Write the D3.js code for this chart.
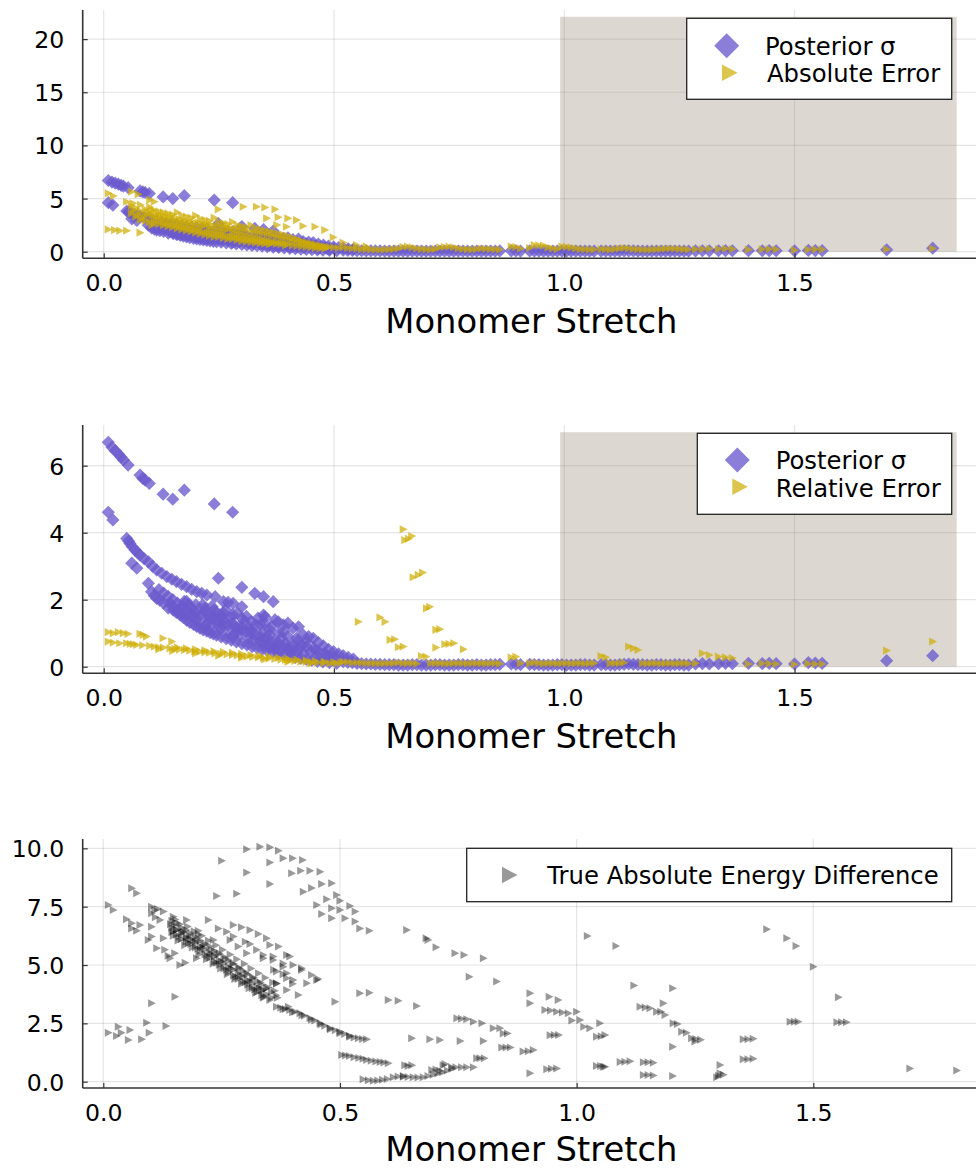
<!DOCTYPE html>
<html><head><meta charset="utf-8">
<script src="https://cdn.jsdelivr.net/npm/d3@7"></script>
<style>body{margin:0;background:#fff}svg{display:block}text{font-family:"DejaVu Sans",sans-serif}</style>
</head><body>
<script>
// ---------- DATA ----------
const xTicks = [0, 0.5, 1.0, 1.5];
const yTicks1 = [0, 5, 10, 15, 20];
const yTicks2 = [0, 2, 4, 6];
const yTicks3 = [0, 2.5, 5, 7.5, 10];
const xLabel = "Monomer Stretch";
const legend1 = ["Posterior σ", "Absolute Error"];
const legend2 = ["Posterior σ", "Relative Error"];
const legend3 = ["True Absolute Energy Difference"];

// Posterior sigma (low stretch part)
const sigmaHead = [
[0.010,6.70],[0.018,6.55],[0.025,6.45],[0.032,6.35],[0.038,6.25],[0.043,6.17],[0.053,6.02],[0.079,5.72],[0.085,5.62],[0.090,5.57],[0.099,5.47],[0.129,5.15],[0.150,5.00],[0.175,5.27],[0.240,4.86],[0.280,4.61],
[0.010,4.61],[0.020,4.38],[0.050,3.83],[0.054,3.75],[0.057,3.68],[0.062,3.58],[0.068,3.48],[0.074,3.40],[0.079,3.33],[0.061,3.09],[0.072,2.94],[0.088,3.22],[0.097,3.13],[0.106,3.00],[0.115,2.89],[0.126,2.79],[0.137,2.69],[0.148,2.61],[0.158,2.54],[0.169,2.46],[0.180,2.39],[0.191,2.31],[0.202,2.24],[0.213,2.19],[0.224,2.14],[0.249,2.64],[0.242,2.09],[0.260,1.94],[0.270,1.92],[0.281,1.89],[0.300,2.37],[0.300,1.79],[0.328,2.19],[0.347,2.09],[0.368,1.94],[0.350,1.49],[0.347,1.54],[0.350,1.30],[0.372,1.40],[0.379,1.34],[0.390,1.25],[0.400,1.30],[0.411,1.15],[0.423,1.19],[0.433,0.95],[0.445,0.90],[0.455,0.85],[0.466,0.72],[0.477,0.62],[0.488,0.52],[0.499,0.45],[0.510,0.38],[0.520,0.33],[0.531,0.28],[0.542,0.23],[0.390,1.04],[0.419,0.85],[0.440,0.75],
[0.097,2.49],[0.104,2.24],[0.110,2.12],[0.115,2.04],[0.122,1.98],[0.144,1.89],[0.151,1.69],[0.158,1.62],[0.166,1.54],[0.173,1.47],[0.180,1.39],[0.187,1.32],[0.195,1.26],[0.202,1.20],[0.209,1.15],[0.216,1.10],[0.224,1.06],[0.231,1.02],[0.238,0.98],[0.245,0.94],[0.255,0.89],[0.266,0.84],[0.277,0.79],[0.288,0.74],[0.300,0.69],[0.311,0.65],[0.322,0.60],[0.333,0.56],[0.344,0.52],[0.355,0.48],[0.368,0.44],[0.380,0.40],[0.392,0.36],[0.404,0.32],[0.416,0.28],[0.428,0.25],[0.440,0.22],[0.452,0.19],[0.464,0.16],[0.476,0.14],[0.490,0.12],[0.506,0.10],
[0.16,1.90],[0.17,1.80],[0.18,1.70],[0.19,1.75],[0.20,1.60],[0.21,1.55],[0.22,1.65],[0.23,1.45],[0.24,1.50],[0.25,1.35],[0.26,1.40],[0.27,1.25],[0.28,1.30],[0.29,1.15],[0.30,1.20],[0.31,1.05],[0.32,1.10],[0.33,0.95],[0.34,0.90],[0.35,0.85],[0.36,0.80],[0.37,0.75],[0.38,0.70],[0.39,0.60],[0.40,0.55],[0.41,0.50],[0.42,0.45],
[0.18,1.95],[0.20,1.85],[0.22,1.75],[0.24,1.70],[0.26,1.60],[0.28,1.55],[0.30,1.45],[0.32,1.35],[0.34,1.25],[0.36,1.10],[0.38,1.00],[0.40,0.90],[0.42,0.75],[0.44,0.60],[0.46,0.50],[0.48,0.40],[0.50,0.30],
[0.165,1.75],[0.195,1.50],[0.225,1.30],[0.255,1.15],[0.285,1.00],[0.315,0.85],[0.345,0.70],[0.375,0.60],[0.405,0.45],[0.435,0.38],[0.465,0.30],
[0.12,2.30],[0.13,2.20],[0.14,2.10],[0.15,2.00],[0.13,1.90],[0.14,1.75],[0.15,1.80],[0.16,1.65],[0.17,1.60],[0.175,1.95],[0.185,1.85],[0.19,1.55],[0.20,1.40],[0.21,1.35],[0.215,1.85],[0.225,1.55],[0.235,1.25],[0.235,1.80],[0.245,1.60],[0.25,1.20],[0.255,1.50],[0.265,1.70],[0.27,1.05],[0.275,1.45],[0.285,1.20],[0.29,1.60],[0.295,0.95],[0.305,1.35],[0.31,1.50],[0.315,1.15],[0.325,0.80],[0.33,1.25],[0.335,1.45],[0.345,1.05],[0.355,0.65],[0.36,0.95],[0.365,1.20],[0.37,0.55],[0.385,0.85],[0.395,0.70],[0.41,0.65],[0.425,0.55],[0.43,0.65],[0.45,0.45],[0.455,0.55],[0.47,0.40],[0.485,0.30],[0.49,0.25],[0.18,1.55],[0.20,1.65],[0.22,1.20],[0.24,1.40],[0.26,1.25],[0.28,0.90],[0.30,1.10],[0.32,1.00],[0.34,0.75],[0.36,0.60],[0.38,0.50]
];

// Absolute error (low stretch part)
const absHead = [
[0.010,5.49],[0.021,5.24],[0.050,4.70],[0.064,4.55],[0.061,5.64],[0.075,5.40],[0.100,4.86],[0.110,4.70],[0.104,3.92],[0.010,2.10],[0.024,2.04],[0.035,1.98],[0.050,1.98],[0.079,1.79],[0.249,3.99],[0.303,4.23],[0.332,4.23],[0.350,4.17],[0.372,3.99],[0.354,3.14],[0.379,3.24],[0.400,3.14],[0.419,2.98],[0.376,2.51],[0.397,2.35],[0.433,2.42],[0.459,2.35],[0.480,2.04],[0.4985,1.35],[0.520,0.85],[0.549,0.63],[0.570,0.50],
[0.06,4.3],[0.06,3.6],[0.07,4.1],[0.07,3.3],[0.08,4.4],[0.08,3.8],[0.08,3.0],[0.09,4.0],[0.09,3.4],[0.09,2.9],[0.10,4.2],[0.10,3.6],[0.10,2.8],[0.11,3.9],[0.11,3.2],[0.11,2.7],[0.12,3.8],[0.12,3.3],[0.12,2.6],[0.13,3.7],[0.13,3.1],[0.13,2.5],[0.14,3.6],[0.14,3.0],[0.14,2.4],[0.15,3.5],[0.15,2.9],[0.15,2.3],[0.16,3.7],[0.16,2.8],[0.16,2.2],[0.17,3.4],[0.17,2.7],[0.17,2.1],[0.18,3.3],[0.18,2.6],[0.18,2.0],[0.19,3.2],[0.19,2.5],[0.19,1.9],[0.20,3.4],[0.20,2.4],[0.20,1.8],[0.21,3.1],[0.21,2.3],[0.21,1.7],[0.22,3.0],[0.22,2.5],[0.22,1.6],[0.23,2.9],[0.23,2.2],[0.23,1.5],[0.24,3.2],[0.24,2.1],[0.24,1.4],[0.25,2.8],[0.25,2.0],[0.25,1.4],[0.26,2.7],[0.26,1.9],[0.26,1.3],[0.27,2.6],[0.27,2.2],[0.27,1.2],[0.28,2.8],[0.28,1.8],[0.28,1.2],[0.29,2.5],[0.29,1.7],[0.29,1.1],[0.30,2.4],[0.30,1.6],[0.30,1.0],[0.31,2.3],[0.31,1.5],[0.31,0.95],[0.32,2.5],[0.32,1.4],[0.32,0.9],[0.33,2.2],[0.33,1.3],[0.33,0.85],[0.34,2.1],[0.34,1.2],[0.34,0.8],[0.35,2.0],[0.35,1.1],[0.35,0.75],[0.36,1.9],[0.36,1.0],[0.36,0.7],[0.37,1.8],[0.37,0.9],[0.38,1.7],[0.38,0.85],[0.39,1.6],[0.39,0.8],[0.40,1.5],[0.40,0.7],[0.41,1.3],[0.41,0.6],[0.42,1.2],[0.42,0.55],[0.43,1.0],[0.43,0.5],[0.44,0.9],[0.44,0.45],[0.45,0.8],[0.45,0.4],[0.46,0.7],[0.46,0.35],[0.47,0.6],[0.47,0.3],[0.48,0.5],[0.48,0.3],[0.49,0.45],[0.50,0.4],[0.51,0.35],
[0.065,3.9],[0.075,3.5],[0.085,3.2],[0.095,3.7],[0.105,3.4],[0.105,2.5],[0.115,3.55],[0.115,3.0],[0.125,3.45],[0.125,2.9],[0.135,3.35],[0.135,2.7],[0.145,3.25],[0.145,2.6],[0.155,3.15],[0.155,2.5],[0.165,3.05],[0.165,2.4],[0.175,2.95],[0.175,2.3],[0.185,2.85],[0.185,2.2],[0.195,2.8],[0.195,2.1],[0.205,2.75],[0.205,2.0],[0.215,2.65],[0.215,1.9],[0.225,2.6],[0.225,1.85],[0.235,2.5],[0.235,1.75],[0.245,2.45],[0.245,1.7],[0.255,2.35],[0.255,1.6],[0.265,2.3],[0.265,1.55],[0.275,2.2],[0.275,1.45],[0.285,2.15],[0.285,1.4],[0.295,2.05],[0.295,1.3],[0.305,2.0],[0.305,1.25],[0.315,1.9],[0.315,1.15],[0.325,1.85],[0.325,1.1],[0.335,1.75],[0.335,1.0],[0.345,1.7],[0.345,0.95],[0.355,1.6],[0.355,0.9],[0.365,1.5],[0.365,0.8],[0.375,1.4],[0.375,0.75],[0.385,1.3],[0.385,0.7],[0.395,1.2],[0.395,0.6],[0.405,1.1],[0.415,1.0],[0.425,0.9],[0.435,0.8],[0.445,0.7],[0.455,0.6],[0.465,0.5],[0.475,0.45],[0.485,0.4]
];

// Relative error (low stretch part + outliers)
const relHead = [
[0.010,1.03],[0.021,1.00],[0.032,1.03],[0.043,1.00],[0.053,0.98],[0.079,0.98],[0.086,0.95],[0.093,0.90],[0.129,0.85],[0.148,0.75],
[0.010,0.75],[0.021,0.72],[0.035,0.70],[0.050,0.70],[0.058,0.68],[0.065,0.67],[0.072,0.65],[0.085,0.64],[0.100,0.62],[0.110,0.60],[0.120,0.58],[0.130,0.57],[0.144,0.55],[0.155,0.53],[0.165,0.51],[0.176,0.50],[0.187,0.48],[0.198,0.46],[0.209,0.45],[0.220,0.43],[0.230,0.42],[0.242,0.40],[0.255,0.38],[0.268,0.37],[0.280,0.35],[0.290,0.34],[0.300,0.32],[0.312,0.31],[0.324,0.29],[0.336,0.28],[0.347,0.26],[0.360,0.25],[0.372,0.23],[0.385,0.21],[0.395,0.20],[0.404,0.18],[0.415,0.17],[0.428,0.15],[0.440,0.14],[0.452,0.13],[0.465,0.12],[0.478,0.11],[0.491,0.10],[0.505,0.10],[0.515,0.12],
[0.16,0.58],[0.18,0.55],[0.20,0.52],[0.22,0.49],[0.24,0.46],[0.26,0.44],[0.28,0.41],[0.30,0.38],[0.32,0.35],[0.34,0.33],[0.36,0.30],[0.38,0.27],[0.40,0.24],[0.42,0.21],[0.44,0.19],[0.46,0.17],[0.48,0.15],[0.50,0.14],[0.25,0.33],[0.30,0.27],[0.35,0.22],[0.40,0.15],[0.45,0.10],[0.20,0.40],[0.15,0.47],[0.12,0.52],
[0.6505,4.10],[0.654,3.78],[0.662,3.82],[0.669,3.90],[0.672,2.67],[0.683,2.74],[0.6925,2.81],[0.701,1.74],[0.708,1.79],[0.553,1.34],[0.600,1.47],[0.611,1.34],[0.622,0.80],[0.632,0.82],[0.640,0.58],[0.6505,0.60],[0.7215,1.10],[0.730,1.12],[0.7215,0.57],[0.741,0.67],[0.750,0.68],[0.7605,0.70],[0.781,0.52]
];

// High stretch part shared by the three error series
const tailStretch = [0.52,0.53,0.54,0.55,0.56,0.57,0.58,0.59,0.60,0.61,0.62,0.63,0.64,0.65,0.66,0.67,0.68,0.69,0.70,0.71,0.72,0.73,0.74,0.75,0.76,0.77,0.78,0.79,0.80,0.81,0.82,0.83,0.84,0.85,0.86,
0.885,0.895,0.905,
0.925,0.935,0.945,0.955,0.965,0.975,0.985,0.995,1.005,1.015,1.025,1.035,1.045,1.055,1.065,
1.08,1.09,1.10,1.11,1.12,1.13,1.14,1.15,1.16,1.17,1.18,1.19,1.20,1.21,1.22,1.23,1.24,1.25,1.26,1.27,
1.285,1.30,1.315,1.335,1.35,1.365,1.40,1.43,1.445,1.46,1.50,1.53,1.545,1.56,1.70,1.80];
const tailSigma = [0.15,0.13,0.12,0.10,0.09,0.08,0.08,0.07,0.07,0.06,0.06,0.06,0.05,0.05,0.05,0.06,0.06,0.05,0.05,0.05,0.06,0.06,0.05,0.05,0.05,0.06,0.06,0.05,0.05,0.06,0.05,0.05,0.06,0.06,0.07,
0.08,0.07,0.06,
0.07,0.06,0.06,0.05,0.05,0.05,0.06,0.06,0.05,0.05,0.05,0.06,0.06,0.05,0.05,
0.06,0.06,0.05,0.05,0.06,0.07,0.08,0.07,0.06,0.06,0.05,0.05,0.06,0.06,0.05,0.05,0.06,0.06,0.05,0.05,
0.08,0.09,0.08,0.09,0.10,0.09,0.10,0.09,0.10,0.09,0.08,0.12,0.11,0.10,0.18,0.33];
const tailAbs = [0.40,0.35,0.30,0.28,0.25,0.22,0.20,0.20,0.18,0.20,
0.22,0.25,0.30,0.45,0.48,0.40,0.30,0.25,0.22,0.20,
0.25,0.40,0.45,0.48,0.42,0.30,0.25,0.22,0.20,0.25,
0.30,0.28,0.25,0.22,0.20,
0.50,0.45,0.30,
0.35,0.62,0.60,0.58,0.40,0.30,0.25,0.48,0.45,0.40,0.30,0.25,0.22,0.20,0.20,
0.25,0.22,0.20,0.25,0.30,0.35,0.30,0.25,0.22,0.20,0.18,0.20,0.22,0.25,0.28,0.30,0.28,0.25,0.22,0.20,
0.22,0.25,0.28,0.25,0.28,0.25,0.20,0.22,0.25,0.22,0.15,0.20,0.22,0.20,0.22,0.30];
const tailRel = [0.15,0.14,0.12,0.12,0.11,0.10,0.10,0.10,0.09,0.10,
0.10,0.10,0.12,0.10,0.10,0.10,0.09,0.32,0.30,0.10,
0.10,0.10,0.09,0.09,0.10,0.10,0.10,0.09,0.10,0.10,
0.10,0.09,0.10,0.10,0.09,
0.28,0.30,0.10,
0.10,0.12,0.10,0.09,0.10,0.10,0.09,0.10,0.10,0.09,0.10,0.10,0.09,0.10,0.10,
0.32,0.28,0.10,0.10,0.10,0.12,0.60,0.55,0.50,0.10,0.09,0.10,0.10,0.09,0.10,0.10,0.09,0.10,0.10,0.09,
0.10,0.40,0.35,0.30,0.28,0.26,0.08,0.10,0.09,0.08,0.07,0.09,0.08,0.08,0.48,0.75];

// True absolute energy difference
const trueDiff = [
[0.0106,7.57],[0.021,7.36],[0.060,8.29],[0.0706,8.07],
[0.049,6.96],[0.060,6.79],[0.060,6.57],[0.0706,6.47],[0.0775,6.72],
[0.102,7.50],[0.109,7.36],[0.102,7.22],[0.115,7.40],[0.120,6.93],[0.102,6.64],[0.127,7.29],[0.110,7.05],
[0.102,6.22],[0.095,6.07],[0.127,6.15],[0.113,5.72],[0.130,5.65],[0.141,5.29],[0.137,5.40],[0.162,5.00],[0.151,5.50],[0.173,5.10],[0.197,5.29],
[0.148,7.07],[0.176,6.93],[0.155,6.50],[0.148,6.45],[0.176,6.15],[0.2007,6.47],[0.2007,6.30],
[0.222,6.93],[0.243,6.57],[0.2607,6.43],[0.2747,6.72],[0.292,6.62],[0.31,6.50],[0.3275,6.33],[0.345,6.15],[0.352,5.86],[0.37,5.79],[0.3875,5.43],[0.394,5.36],[0.401,5.0],[0.419,4.86],[0.419,4.79],[0.44,4.57],[0.451,4.36],[0.454,4.40],
[0.2747,6.22],[0.30,6.0],[0.31,5.9],[0.338,5.43],[0.359,5.22],[0.38,4.93],[0.36,4.8],[0.38,4.6],[0.3875,4.43],[0.412,3.72],[0.3875,3.93],[0.391,3.21],[0.366,4.2],[0.40,4.2],
[0.2325,6.07],[0.268,6.07],[0.285,5.79],[0.303,5.50],[0.324,5.65],[0.338,5.29],[0.359,5.36],[0.38,5.07],[0.366,4.72],[0.3875,4.65],[0.401,4.36],[0.43,4.22],[0.366,4.22],[0.338,3.93],
[0.2396,7.96],[0.2819,8.05],[0.250,9.47],[0.303,9.96],[0.331,10.07],[0.352,10.05],[0.370,9.90],[0.303,8.96],[0.352,9.39],[0.352,8.47],[0.380,9.57],[0.40,9.57],[0.421,9.50],[0.398,8.93],[0.417,9.04],[0.4367,9.04],[0.458,9.0],[0.4226,8.14],[0.44,8.3],[0.4614,8.47],[0.4826,8.50],[0.451,7.57],[0.472,7.82],[0.493,8.0],[0.4614,7.19],[0.4826,7.43],[0.50,7.36],[0.4826,7.0],[0.50,7.75],[0.521,7.53],[0.532,7.29],[0.5107,7.0],[0.532,6.86],[0.542,6.57],[0.562,6.47],
[0.0106,2.10],[0.028,1.96],[0.0317,2.36],[0.038,2.10],[0.053,1.79],[0.0564,2.22],[0.081,1.82],[0.0917,2.53],[0.097,2.10],[0.1325,2.39],[0.102,3.36],[0.1515,3.64],
[0.145,6.9],[0.145,6.6],[0.145,6.4],[0.155,6.8],[0.155,6.5],[0.155,6.3],[0.165,6.6],[0.165,6.35],[0.165,6.1],[0.175,6.5],[0.175,6.2],[0.175,6.0],[0.185,6.35],[0.185,6.1],[0.185,5.9],[0.195,6.2],[0.195,5.95],[0.195,5.75],[0.205,6.05],[0.205,5.8],[0.205,5.6],[0.215,5.9],[0.215,5.65],[0.215,5.45],[0.225,5.8],[0.225,5.5],[0.225,5.3],[0.235,5.6],[0.235,5.35],[0.235,5.15],[0.245,5.5],[0.245,5.2],[0.245,5.0],[0.255,5.35],[0.255,5.05],[0.255,4.85],[0.265,5.2],[0.265,4.9],[0.265,4.7],[0.275,5.05],[0.275,4.8],[0.275,4.55],[0.285,4.9],[0.285,4.65],[0.285,4.4],[0.295,4.75],[0.295,4.5],[0.295,4.3],[0.305,4.6],[0.305,4.35],[0.305,4.15],[0.315,4.45],[0.315,4.2],[0.315,4.0],[0.325,4.3],[0.325,4.05],[0.325,3.85],[0.335,4.15],[0.335,3.9],[0.335,3.7],[0.345,4.0],[0.345,3.75],[0.355,3.85],[0.355,3.6],[0.365,3.7],
[0.15,6.7],[0.17,6.4],[0.19,6.05],[0.21,5.75],[0.23,5.45],[0.25,5.15],[0.27,4.85],[0.29,4.55],[0.31,4.3],[0.33,4.0],[0.16,6.2],[0.18,5.95],[0.20,5.7],[0.22,5.4],[0.24,5.1],[0.26,4.8],[0.28,4.5],[0.30,4.25],[0.32,3.95],[0.34,3.65],
[0.142,6.75],[0.148,6.25],[0.152,6.95],[0.158,6.05],[0.162,6.75],[0.168,6.45],[0.172,5.85],[0.178,6.65],[0.182,6.25],[0.188,5.75],[0.192,6.45],[0.198,6.05],[0.202,5.45],[0.208,6.25],[0.212,5.85],[0.218,5.25],[0.222,6.05],[0.228,5.65],[0.232,5.05],[0.238,5.85],[0.242,5.45],[0.248,4.85],[0.252,5.65],[0.258,5.25],[0.262,4.6],[0.268,5.45],[0.272,5.05],[0.278,4.4],[0.282,5.25],[0.288,4.85],[0.292,4.2],[0.298,5.05],[0.302,4.65],[0.308,4.0],[0.312,4.85],[0.318,4.45],[0.322,3.8],[0.328,4.65],[0.332,4.25],[0.338,3.6],[0.342,4.45],[0.348,4.05],[0.352,3.5],[0.358,4.25],[0.362,3.9],[0.368,3.6],
[0.366,3.21],[0.375,3.17],[0.385,3.12],[0.394,3.07],[0.405,3.0],[0.4156,2.93],[0.425,2.83],[0.4367,2.72],[0.447,2.62],[0.458,2.50],[0.468,2.40],[0.479,2.29],[0.49,2.2],[0.5,2.14],[0.51,2.04],[0.521,1.93],[0.53,1.89],[0.539,1.86],[0.548,1.83],[0.5565,1.82],[0.38,3.1],[0.40,2.98],[0.42,2.85],[0.44,2.65],[0.46,2.45],[0.48,2.25],[0.50,2.08],[0.52,1.97],
[0.5037,1.14],[0.512,1.12],[0.52,1.10],[0.53,1.05],[0.54,1.02],[0.549,0.98],[0.5565,0.93],[0.566,0.90],[0.576,0.87],[0.585,0.84],[0.593,0.82],[0.602,0.79],
[0.549,0.10],[0.56,0.06],[0.5705,0.04],[0.58,0.05],[0.59,0.08],[0.60,0.12],[0.6127,0.19],[0.623,0.22],[0.634,0.24],[0.644,0.20],[0.655,0.19],[0.665,0.18],[0.676,0.19],[0.686,0.24],[0.697,0.30],[0.707,0.35],[0.717,0.40],[0.727,0.48],[0.737,0.55],
[0.634,0.21],[0.637,0.71],[0.644,0.67],[0.652,0.70],[0.694,0.50],[0.703,0.52],[0.711,0.47],[0.722,0.76],[0.736,0.62],[0.745,0.62],[0.757,0.62],[0.768,0.62],[0.782,0.62],[0.718,0.71],
[0.4896,3.43],[0.542,3.79],[0.562,3.81],[0.602,3.50],[0.623,3.47],[0.662,3.24],[0.641,6.50],[0.682,6.15],[0.686,6.07],[0.703,5.76],[0.743,5.50],[0.762,5.43],[0.803,5.29],[0.773,4.50],[0.831,4.29],
[0.6516,1.86],[0.69,1.82],[0.711,1.79],[0.754,1.74],[0.803,1.74],
[0.747,2.72],[0.757,2.70],[0.768,2.68],[0.782,2.57],[0.80,2.50],[0.824,2.29],[0.838,2.29],[0.845,2.07],[0.854,2.07],
[0.789,1.0],[0.796,1.0],[0.805,1.0],[0.842,1.47],[0.851,1.47],[0.860,1.47],[0.887,1.29],[0.898,1.31],[0.9085,1.36],
[0.9015,3.79],[0.9015,3.36],[0.942,3.64],[0.961,3.50],[0.933,3.07],[0.945,3.05],[0.958,3.0],[0.97,2.97],[0.9825,2.93],[1.0,3.0],[1.007,2.64],[0.99,2.62],[1.015,2.35],[1.028,2.29],[1.049,2.50],[1.042,1.93],[1.052,1.95],[1.06,2.0],
[0.944,1.99],[0.953,2.0],[0.962,2.0],[0.9015,0.36],[0.937,0.53],[0.947,0.55],[0.958,0.57],[1.042,0.67],[1.051,0.67],[1.06,0.64],[1.092,0.84],[1.102,0.86],[1.113,0.88],[1.0226,6.24],[1.083,5.82],
[1.121,4.12],[1.203,4.0],[1.183,3.36],[1.134,3.21],[1.145,3.18],[1.155,3.15],[1.169,3.0],[1.178,3.0],[1.1867,2.86],[1.204,2.50],[1.213,2.47],[1.222,2.14],[1.232,2.10],[1.243,1.86],[1.252,1.83],[1.262,1.80],[1.25,1.72],[1.203,1.5],
[1.352,1.82],[1.362,1.82],[1.373,1.84],[1.352,0.96],[1.362,0.96],[1.373,0.98],[1.303,0.72],[1.303,0.36],[1.296,0.19],[1.31,0.30],[1.30,0.25],
[1.141,0.83],[1.151,0.83],[1.162,0.81],[1.141,0.29],[1.151,0.29],[1.162,0.27],[1.203,0.24],[1.0564,0.64],
[1.4016,6.53],[1.444,6.15],[1.4636,5.82],[1.50,4.93],[1.553,3.62],[1.451,2.57],[1.46,2.57],[1.468,2.57],[1.55,2.55],[1.56,2.55],[1.57,2.55],[1.704,0.57],[1.803,0.48]
];

// ---------- build series ----------
const sigmaPts = sigmaHead.concat(tailStretch.map((x, i) => [x, tailSigma[i]]));
const absPts = absHead.concat(tailStretch.map((x, i) => [x, tailAbs[i]]));
const relPts = relHead.concat(tailStretch.map((x, i) => [x, tailRel[i]]));

// ---------- drawing ----------
const W = 976, H = 1168;
const svg = d3.select("body").append("svg").attr("width", W).attr("height", H);
const FONT = '"DejaVu Sans", sans-serif';
const PURPLE = "#6A5ACD", GOLD = "#CDAD00";
const TICK_FS = 23.6, LABEL_FS = 33.8, LEG_FS = 24.3;

const diamond = s => `M0,${-s}L${s},0L0,${s}L${-s},0Z`;
const triR = (w, h) => `M${-w*0.45},${-h/2}L${w*0.55},0L${-w*0.45},${h/2}Z`;

function panel(cfg) {
  const L = 82.7, R = 976;
  const x = d3.scaleLinear().domain(cfg.xd).range([L, R]);
  const y = d3.scaleLinear().domain(cfg.yd).range([cfg.bottom, cfg.top]);
  const g = svg.append("g");

  g.selectAll(".gx").data(xTicks).join("line")
    .attr("x1", d => x(d)).attr("x2", d => x(d)).attr("y1", cfg.top).attr("y2", cfg.bottom)
    .attr("stroke", "#000").attr("stroke-opacity", 0.1).attr("stroke-width", 1.2);
  g.selectAll(".gy").data(cfg.yticks).join("line")
    .attr("x1", L).attr("x2", R).attr("y1", d => y(d)).attr("y2", d => y(d))
    .attr("stroke", "#000").attr("stroke-opacity", 0.1).attr("stroke-width", 1.2);

  if (cfg.span) {
    g.append("rect")
      .attr("x", x(cfg.span[0])).attr("width", x(cfg.span[1]) - x(cfg.span[0]))
      .attr("y", y(cfg.span[3])).attr("height", y(cfg.span[2]) - y(cfg.span[3]))
      .attr("fill", "#8B7E66").attr("fill-opacity", 0.3);
  }

  cfg.series.forEach(s => {
    g.append("g").selectAll("path").data(s.pts).join("path")
      .attr("d", s.shape)
      .attr("transform", d => `translate(${x(d[0])},${y(d[1])})`)
      .attr("fill", s.color).attr("fill-opacity", s.op);
  });

  const ax = g.append("g").attr("transform", `translate(0,${cfg.bottom})`)
    .call(d3.axisBottom(x).tickValues(xTicks).tickSize(-5).tickPadding(0).tickFormat(d3.format(".1f")));
  ax.select(".domain").attr("stroke", "#333").attr("stroke-width", 1.6).attr("d", `M${L},0H${R}`);
  ax.selectAll(".tick line").attr("stroke", "#333").attr("stroke-width", 1.2);
  ax.selectAll(".tick text").attr("font-family", FONT).attr("font-size", TICK_FS).attr("fill", "#000")
    .attr("dy", null).attr("y", 32.5);

  const ay = g.append("g").attr("transform", `translate(${L},0)`)
    .call(d3.axisLeft(y).tickValues(cfg.yticks).tickSize(-5).tickPadding(0).tickFormat(cfg.yfmt));
  ay.select(".domain").attr("stroke", "#333").attr("stroke-width", 1.6).attr("d", `M0,${cfg.top}V${cfg.bottom}`);
  ay.selectAll(".tick line").attr("stroke", "#333").attr("stroke-width", 1.2);
  ay.selectAll(".tick text").attr("font-family", FONT).attr("font-size", TICK_FS).attr("fill", "#000")
    .attr("x", -18.4).attr("dy", "0.36em");

  g.append("text").attr("x", (L + R) / 2 + 2).attr("y", cfg.bottom + cfg.labelOff)
    .attr("text-anchor", "middle").attr("font-family", FONT).attr("font-size", LABEL_FS).text(xLabel);

  const lg = cfg.legend;
  g.append("rect").attr("x", lg.x).attr("y", lg.y).attr("width", lg.w).attr("height", lg.h)
    .attr("fill", "#fff").attr("stroke", "#222").attr("stroke-width", 1.3);
  lg.items.forEach(it => {
    g.append("path").attr("d", it.shape).attr("transform", `translate(${it.mx},${it.my})`)
      .attr("fill", it.color).attr("fill-opacity", it.op);
    g.append("text").attr("x", it.tx).attr("y", it.ty).attr("font-family", FONT)
      .attr("font-size", LEG_FS).attr("fill", "#000").text(it.label);
  });
}

const dmark = diamond(6.6), tmark = triR(8, 8.2), tmark3 = triR(7.8, 8);
const dLeg = diamond(12.5), tLeg = triR(15.5, 16.5);

panel({
  top: 10, bottom: 258.3, xd: [-0.0456, 1.894], yd: [-0.62, 22.74], labelOff: 74.8,
  yticks: yTicks1, yfmt: d3.format("d"), span: [0.991, 1.852, 0, 22.1],
  series: [
    { pts: sigmaPts, shape: dmark, color: PURPLE, op: 0.78 },
    { pts: absPts, shape: tmark, color: GOLD, op: 0.7 }
  ],
  legend: { x: 686.7, y: 18.3, w: 265, h: 81, items: [
    { shape: dLeg, mx: 726.7, my: 45.7, color: PURPLE, op: 0.78, tx: 765, ty: 54.8, label: legend1[0] },
    { shape: tLeg, mx: 729, my: 72.7, color: GOLD, op: 0.7, tx: 767, ty: 81.9, label: legend1[1] }
  ] }
});

panel({
  top: 425, bottom: 673.3, xd: [-0.0456, 1.894], yd: [-0.197, 7.215], labelOff: 74.8,
  yticks: yTicks2, yfmt: d3.format("d"), span: [0.991, 1.852, 0, 7.0],
  series: [
    { pts: sigmaPts, shape: dmark, color: PURPLE, op: 0.78 },
    { pts: relPts, shape: tmark, color: GOLD, op: 0.7 }
  ],
  legend: { x: 697.3, y: 433.3, w: 254.4, h: 81, items: [
    { shape: dLeg, mx: 737.3, my: 460, color: PURPLE, op: 0.78, tx: 775.7, ty: 469.3, label: legend2[0] },
    { shape: tLeg, mx: 739.3, my: 486.7, color: GOLD, op: 0.7, tx: 775.7, ty: 496.5, label: legend2[1] }
  ] }
});

panel({
  top: 839, bottom: 1088, xd: [-0.0435, 1.8437], yd: [-0.27, 10.40], labelOff: 72.5,
  yticks: yTicks3, yfmt: d3.format(".1f"), span: null,
  series: [
    { pts: trueDiff, shape: tmark3, color: "#000", op: 0.4 }
  ],
  legend: { x: 466.7, y: 848.3, w: 485, h: 53.4, items: [
    { shape: tLeg, mx: 509, my: 875, color: "#000", op: 0.4, tx: 547.3, ty: 884, label: legend3[0] }
  ] }
});
</script>
</body></html>
